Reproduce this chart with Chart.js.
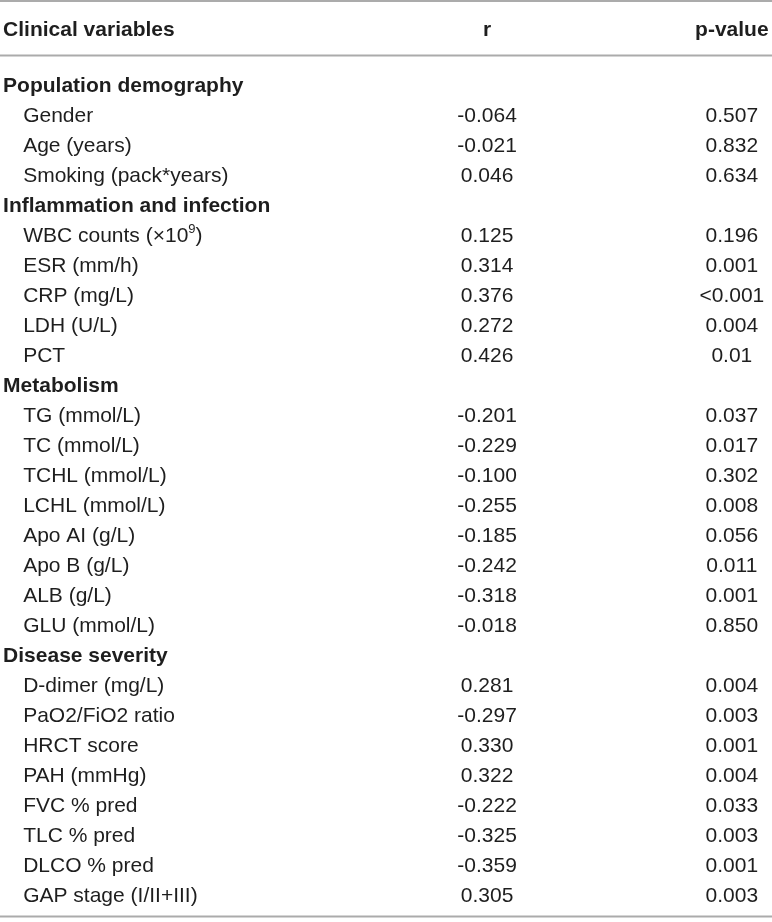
<!DOCTYPE html>
<html>
<head>
<meta charset="utf-8">
<script src="https://cdn.jsdelivr.net/npm/chart.js@4.4.1/dist/chart.umd.min.js"></script>
<style>
  html, body { margin: 0; padding: 0; background: #ffffff; }
  #wrap { position: relative; width: 772px; height: 922px; }
</style>
</head>
<body>
<div id="wrap"><canvas id="c"></canvas></div>
<script>
// ---------- DATA ----------
const headerLabels = ['Clinical variables', 'r', 'p-value'];

const rowLabels = [
  'Population demography',
  'Gender', 'Age (years)', 'Smoking (pack*years)',
  'Inflammation and infection',
  'WBC counts (×10^9)', 'ESR (mm/h)', 'CRP (mg/L)', 'LDH (U/L)', 'PCT',
  'Metabolism',
  'TG (mmol/L)', 'TC (mmol/L)', 'TCHL (mmol/L)', 'LCHL (mmol/L)', 'Apo AI (g/L)', 'Apo B (g/L)', 'ALB (g/L)', 'GLU (mmol/L)',
  'Disease severity',
  'D-dimer (mg/L)', 'PaO2/FiO2 ratio', 'HRCT score', 'PAH (mmHg)', 'FVC % pred', 'TLC % pred', 'DLCO % pred', 'GAP stage (I/II+III)'
];

const sectionLabels = ['Population demography', 'Inflammation and infection', 'Metabolism', 'Disease severity'];

const rValues = [
  null,
  -0.064, -0.021, 0.046,
  null,
  0.125, 0.314, 0.376, 0.272, 0.426,
  null,
  -0.201, -0.229, -0.100, -0.255, -0.185, -0.242, -0.318, -0.018,
  null,
  0.281, -0.297, 0.330, 0.322, -0.222, -0.325, -0.359, 0.305
];

const pValues = [
  null,
  '0.507', '0.832', '0.634',
  null,
  '0.196', '0.001', '<0.001', '0.004', '0.01',
  null,
  '0.037', '0.017', '0.302', '0.008', '0.056', '0.011', '0.001', '0.850',
  null,
  '0.004', '0.003', '0.001', '0.004', '0.033', '0.003', '0.001', '0.003'
];

// ---------- LAYOUT (table units on the library's scales) ----------
const COL_SECTION = 0.4;   // x, % of width
const COL_ITEM = 3.0;
const COL_R = 63.1;
const COL_P = 94.8;
const HEADER_ROW = -1.86;
const RULE_ROWS = [-2.78, -0.97, 27.73];
const FONT_FAMILY = '"Liberation Sans", Arial, Helvetica, sans-serif';
const FONT_SIZE = 21;
const TEXT_COLOR = '#1e1e1e';
const RULE_COLOR = '#ababab';

const isSection = rowLabels.map(l => sectionLabels.includes(l));

// datasets: one cell per point, positioned by the scales
const labelCells = rowLabels.map((l, i) => ({ x: isSection[i] ? COL_SECTION : COL_ITEM, y: i, text: l, bold: isSection[i], align: 'left' }));
const rCells = [];
rValues.forEach((v, i) => { if (v !== null) rCells.push({ x: COL_R, y: i, text: v.toFixed(3), bold: false, align: 'center' }); });
const pCells = [];
pValues.forEach((v, i) => { if (v !== null) pCells.push({ x: COL_P, y: i, text: v, bold: false, align: 'center' }); });
const headerCells = [
  { x: COL_SECTION, y: HEADER_ROW, text: headerLabels[0], bold: true, align: 'left' },
  { x: COL_R, y: HEADER_ROW, text: headerLabels[1], bold: true, align: 'center' },
  { x: COL_P, y: HEADER_ROW, text: headerLabels[2], bold: true, align: 'center' }
];

function drawRich(ctx, text, x, y, bold, align) {
  const w = bold ? 'bold ' : '';
  const mainFont = w + FONT_SIZE + 'px ' + FONT_FAMILY;
  const supFont = w + Math.round(FONT_SIZE * 0.62) + 'px ' + FONT_FAMILY;
  // split superscript parts marked with ^d
  const parts = [];
  const re = /\^(\w)/g;
  let last = 0, m;
  while ((m = re.exec(text)) !== null) {
    if (m.index > last) parts.push({ t: text.slice(last, m.index), sup: false });
    parts.push({ t: m[1], sup: true });
    last = re.lastIndex;
  }
  if (last < text.length) parts.push({ t: text.slice(last), sup: false });
  let total = 0;
  parts.forEach(p => { ctx.font = p.sup ? supFont : mainFont; p.w = ctx.measureText(p.t).width; total += p.w; });
  let cx = align === 'center' ? x - total / 2 : x;
  const baseline = y + FONT_SIZE * 0.358;
  ctx.textAlign = 'left';
  ctx.textBaseline = 'alphabetic';
  parts.forEach(p => {
    ctx.font = p.sup ? supFont : mainFont;
    ctx.fillText(p.t, cx, p.sup ? baseline - FONT_SIZE * 0.42 : baseline);
    cx += p.w;
  });
}

const tablePlugin = {
  id: 'tableText',
  afterDatasetsDraw(chart) {
    const ctx = chart.ctx;
    const xs = chart.scales.x, ys = chart.scales.y;
    ctx.save();
    // rules
    ctx.strokeStyle = RULE_COLOR;
    ctx.lineWidth = 2;
    RULE_ROWS.forEach(r => {
      const py = ys.getPixelForValue(r);
      ctx.beginPath();
      ctx.moveTo(chart.chartArea.left, py);
      ctx.lineTo(chart.chartArea.right, py);
      ctx.stroke();
    });
    // cells
    ctx.fillStyle = TEXT_COLOR;
    chart.data.datasets.forEach((ds, di) => {
      const meta = chart.getDatasetMeta(di);
      meta.data.forEach((el, i) => {
        const cell = ds.data[i];
        drawRich(ctx, cell.text, el.x, el.y, cell.bold, cell.align);
      });
    });
    ctx.restore();
  }
};

const invisible = { pointRadius: 0, pointHoverRadius: 0, showLine: false, backgroundColor: 'transparent', borderColor: 'transparent' };

new Chart(document.getElementById('c'), {
  type: 'scatter',
  data: {
    datasets: [
      Object.assign({ label: 'header', data: headerCells }, invisible),
      Object.assign({ label: 'variables', data: labelCells }, invisible),
      Object.assign({ label: 'r', data: rCells }, invisible),
      Object.assign({ label: 'p', data: pCells }, invisible)
    ]
  },
  options: {
    responsive: true,
    maintainAspectRatio: false,
    animation: false,
    events: [],
    layout: { padding: 0 },
    plugins: { legend: { display: false }, tooltip: { enabled: false } },
    scales: {
      x: { type: 'linear', min: 0, max: 100, display: false },
      y: { type: 'linear', reverse: true, min: -84.5 / 30, max: -84.5 / 30 + 922 / 30, display: false }
    }
  },
  plugins: [tablePlugin]
});
</script>
</body>
</html>
